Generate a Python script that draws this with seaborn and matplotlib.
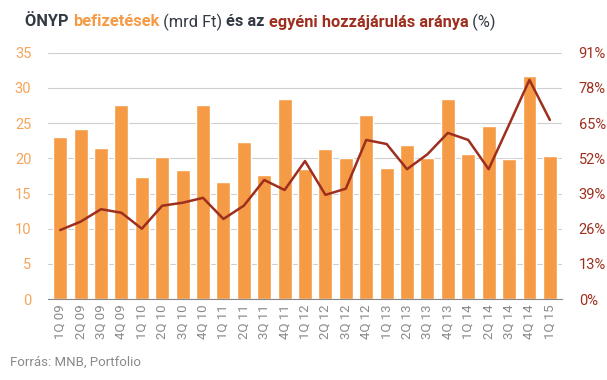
import matplotlib
matplotlib.use("Agg")
import matplotlib.pyplot as plt
import numpy as np
import pandas as pd
import seaborn as sns

# Data
quarters = ["1Q 09", "2Q 09", "3Q 09", "4Q 09", "1Q 10", "2Q 10", "3Q 10", "4Q 10",
            "1Q 11", "2Q 11", "3Q 11", "4Q 11", "1Q 12", "2Q 12", "3Q 12", "4Q 12",
            "1Q 13", "2Q 13", "3Q 13", "4Q 13", "1Q 14", "2Q 14", "3Q 14", "4Q 14",
            "1Q 15"]
payments = [23.0, 24.2, 21.5, 27.6, 17.4, 20.2, 18.3, 27.6,
            16.6, 22.3, 17.6, 28.5, 18.5, 21.4, 20.1, 26.2,
            18.6, 21.9, 20.1, 28.5, 20.6, 24.6, 19.9, 31.7,
            20.4]
ratio = [25.5, 28.6, 33.2, 31.9, 26.0, 34.5, 35.6, 37.4,
         29.6, 34.5, 44.0, 40.3, 51.0, 38.5, 40.8, 58.8,
         57.3, 48.0, 53.5, 61.4, 58.8, 48.0, 64.4, 81.0,
         66.2]
left_ticks = [0, 5, 10, 15, 20, 25, 30, 35]
right_ticks = [0, 13, 26, 39, 52, 65, 78, 91]

ORANGE = "#F59B45"
ORANGE_TXT = "#F5A55A"
RED = "#9E2F1E"
DARK = "#333A44"
GREY = "#8A8A8A"

sns.set_style("white")
plt.rcParams["font.family"] = ["Roboto", "DejaVu Sans"]

df = pd.DataFrame({"quarter": quarters, "payments": payments, "ratio": ratio})

fig = plt.figure(figsize=(6.07, 3.8), dpi=100)
ax = fig.add_axes([0.079, 0.213, 0.847, 0.648])

sns.barplot(data=df, x="quarter", y="payments", color=ORANGE, saturation=1,
            width=0.68, ax=ax, zorder=2)
ax.set_ylim(0, 35)
ax.set_yticks(left_ticks)
ax.set_xlim(-0.6, len(quarters) - 0.4)
ax.yaxis.grid(True, color="#CFCFCF", linewidth=0.8, zorder=0)
ax.set_axisbelow(True)
ax.set_xlabel("")
ax.set_ylabel("")
ax.tick_params(axis="y", colors=ORANGE_TXT, labelsize=10.5, length=0, pad=12)
ax.tick_params(axis="x", colors=GREY, labelsize=9.5, length=0, rotation=90, pad=4)
for s in ["top", "right", "left"]:
    ax.spines[s].set_visible(False)
ax.spines["bottom"].set_color("#888888")

ax2 = ax.twinx()
sns.lineplot(x=np.arange(len(quarters)), y=df["ratio"], color=RED, linewidth=1.8,
             ax=ax2)
ax2.set_ylim(0, 91)
ax2.set_yticks(right_ticks)
ax2.set_yticklabels([f"{t}%" for t in right_ticks])
ax2.set_ylabel("")
ax2.tick_params(axis="y", colors=RED, labelsize=10.5, length=0, pad=12)
for s in ["top", "right", "left", "bottom"]:
    ax2.spines[s].set_visible(False)

# Multi-coloured title
parts = [("ÖNYP ", DARK, "bold"), ("befizetések", ORANGE, "bold"),
         (" (mrd Ft) ", DARK, "normal"), ("és az ", DARK, "bold"),
         ("egyéni hozzájárulás aránya", RED, "bold"), (" (%)", DARK, "normal")]
renderer = fig.canvas.get_renderer()
x = 25
for txt, col, wt in parts:
    t = fig.text(x / 607, 1 - 22 / 380, txt, color=col, fontweight=wt,
                 fontsize=11.8, va="center", ha="left")
    bb = t.get_window_extent(renderer=renderer)
    x += bb.width

fig.text(10 / 607, 1 - 362 / 380, "Forrás: MNB, Portfolio", color=GREY,
         fontsize=9.5, va="center", ha="left")

fig.savefig("out.png", dpi=100)
